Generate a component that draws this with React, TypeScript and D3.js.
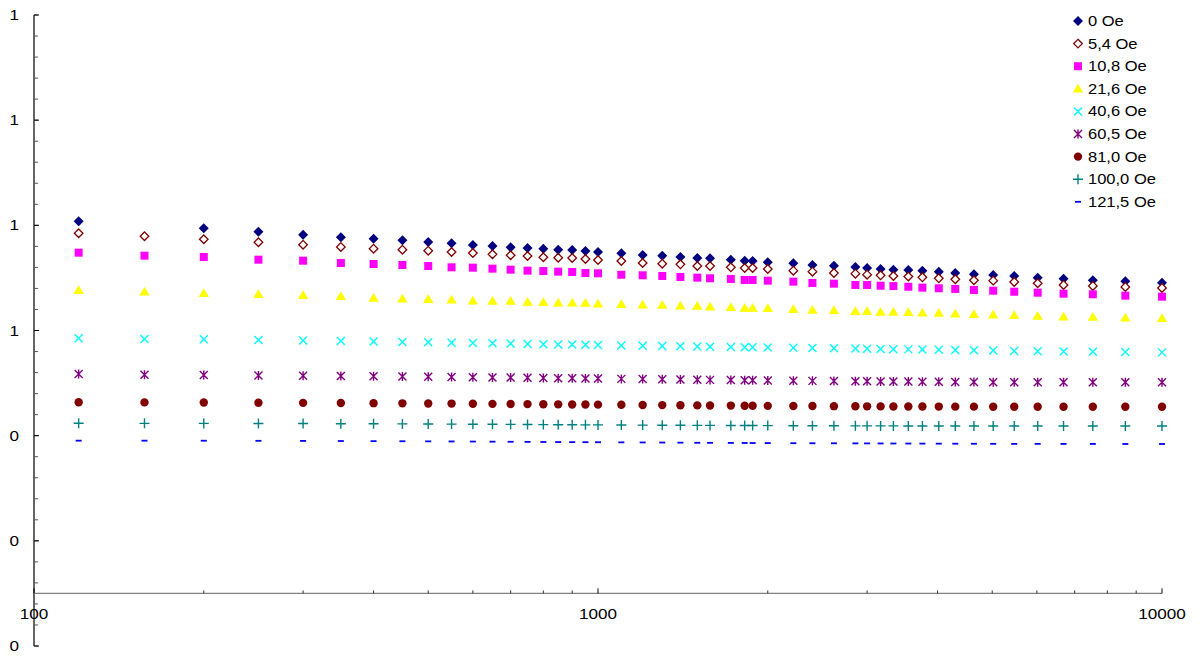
import React from "react";
import * as d3 from "d3";

const xValues = [120,157,200,250,300,350,400,450,500,550,600,650,700,750,800,850,900,950,1000,1100,1200,1300,1400,1500,1580,1720,1820,1880,2000,2220,2400,2620,2860,3000,3170,3340,3550,3760,4020,4300,4640,5020,5470,6020,6690,7540,8610,10000];

const s0: (number | null)[] = [0.808,null,0.7944,0.788,0.7822,0.7773,0.7746,0.7716,0.7684,0.7659,0.7627,0.7608,0.7583,0.757,0.7556,0.7537,0.7531,0.7513,0.7493,0.7469,0.7436,0.7423,0.7398,0.7379,0.7374,0.7347,0.7328,0.7322,0.7298,0.7278,0.7246,0.7233,0.7208,0.7189,0.717,0.7157,0.7151,0.7138,0.7119,0.7094,0.7069,0.7056,0.7037,0.7005,0.6986,0.6955,0.6936,0.691];
const s54 = [0.7849,0.7792,0.7735,0.7678,0.7632,0.7589,0.7556,0.7537,0.7518,0.7493,0.7474,0.745,0.7431,0.7417,0.7393,0.7385,0.7379,0.736,0.7341,0.7322,0.7284,0.7271,0.7259,0.7227,0.7227,0.7202,0.7189,0.7189,0.717,0.7138,0.7119,0.7094,0.7081,0.7062,0.705,0.7037,0.7027,0.7012,0.6993,0.6974,0.6955,0.6948,0.6923,0.6898,0.6866,0.6847,0.6828,0.6809];
const s108 = [0.748,0.7423,0.7398,0.7347,0.7328,0.7284,0.7265,0.7246,0.7227,0.7202,0.7195,0.7176,0.7157,0.7138,0.7132,0.7119,0.7113,0.7094,0.7088,0.706,0.705,0.7037,0.7018,0.7005,0.6993,0.698,0.6961,0.6961,0.6948,0.6929,0.6904,0.6891,0.6866,0.6866,0.6852,0.6845,0.6832,0.6815,0.6803,0.679,0.6771,0.6757,0.6738,0.6719,0.67,0.6689,0.6662,0.6643];
const s216 = [0.6765,0.6738,0.6708,0.6689,0.667,0.6651,0.6619,0.6605,0.6594,0.6586,0.6567,0.6563,0.6561,0.6543,0.6537,0.6529,0.6527,0.6523,0.651,0.6499,0.6491,0.6485,0.6472,0.6466,0.6453,0.6442,0.6428,0.6428,0.6423,0.6404,0.639,0.6385,0.6366,0.6366,0.6352,0.6352,0.6347,0.6339,0.6333,0.632,0.6309,0.6301,0.629,0.6276,0.6263,0.6257,0.6244,0.6232];
const s406 = [0.5852,0.5839,0.5833,0.582,0.581,0.5801,0.5791,0.5782,0.5776,0.5768,0.5763,0.5757,0.5751,0.5744,0.574,0.5736,0.5732,0.5728,0.5725,0.5717,0.5711,0.5706,0.57,0.5696,0.5692,0.5687,0.5683,0.5681,0.5677,0.5671,0.5668,0.5662,0.5656,0.5652,0.5649,0.5645,0.5641,0.5637,0.5633,0.563,0.5624,0.5618,0.5612,0.5607,0.5601,0.5595,0.559,0.5584];
const s605 = [0.5173,0.516,0.5152,0.5145,0.514,0.5135,0.513,0.5125,0.512,0.5116,0.5112,0.5108,0.5104,0.51,0.5097,0.5094,0.5091,0.5088,0.5085,0.508,0.5076,0.5072,0.5068,0.5064,0.5061,0.5057,0.5054,0.5052,0.5049,0.5045,0.5042,0.5039,0.5036,0.5034,0.5032,0.503,0.5028,0.5026,0.5024,0.5022,0.502,0.5018,0.5017,0.5016,0.5015,0.5015,0.5015,0.5015];
const s810 = [0.4635,0.4633,0.463,0.4627,0.4624,0.4621,0.4618,0.4615,0.4612,0.461,0.4607,0.4605,0.4603,0.46,0.4598,0.4596,0.4594,0.4592,0.459,0.4587,0.4584,0.4581,0.4578,0.4576,0.4574,0.4572,0.457,0.4569,0.4567,0.4565,0.4563,0.4561,0.4559,0.4558,0.4557,0.4556,0.4555,0.4554,0.4553,0.4552,0.4552,0.4551,0.4551,0.4551,0.4551,0.4551,0.4551,0.4551];
const s1000 = [0.4235,0.4234,0.4233,0.4231,0.423,0.4228,0.4226,0.4224,0.4222,0.422,0.4218,0.4216,0.4214,0.4212,0.421,0.4208,0.4207,0.4206,0.4205,0.4203,0.4201,0.4199,0.4197,0.4196,0.4195,0.4194,0.4193,0.4192,0.4191,0.419,0.4189,0.4188,0.4187,0.4187,0.4186,0.4186,0.4185,0.4185,0.4185,0.4184,0.4184,0.4184,0.4184,0.4184,0.4184,0.4184,0.4184,0.4184];
const s1215 = [0.3905,0.3905,0.3904,0.3902,0.39,0.3898,0.3896,0.3894,0.3892,0.389,0.3888,0.3886,0.3884,0.3882,0.388,0.3878,0.3877,0.3876,0.3875,0.3873,0.3871,0.3869,0.3867,0.3865,0.3864,0.3862,0.3861,0.386,0.3859,0.3857,0.3856,0.3855,0.3854,0.3853,0.3852,0.3851,0.385,0.3849,0.3848,0.3847,0.3846,0.3845,0.3844,0.3844,0.3843,0.3843,0.3842,0.3842];

const seriesNames = ["0 Oe","5,4 Oe","10,8 Oe","21,6 Oe","40,6 Oe","60,5 Oe","81,0 Oe","100,0 Oe","121,5 Oe"];
const seriesValues = [s0,s54,s108,s216,s406,s605,s810,s1000,s1215];
const xTickValues = [100, 1000, 10000];
const yTickValues = [0, 0.2, 0.4, 0.6, 0.8, 1.0, 1.2];

type Style = { fill: string; stroke: string; sw: number; path: string };
const styles: Style[] = [
  { fill: "#000080", stroke: "none", sw: 0, path: "M0,-5L5,0L0,5L-5,0Z" },
  { fill: "#ffffff", stroke: "#800000", sw: 1.3, path: "M0,-4.3L4.3,0L0,4.3L-4.3,0Z" },
  { fill: "#ff00ff", stroke: "none", sw: 0, path: "M-4,-4L4,-4L4,4L-4,4Z" },
  { fill: "#ffff00", stroke: "none", sw: 0, path: "M0,-5L5.2,3.8L-5.2,3.8Z" },
  { fill: "none", stroke: "#00ffff", sw: 1.4, path: "M-4,-4L4,4M-4,4L4,-4" },
  { fill: "none", stroke: "#800080", sw: 1.4, path: "M-4,-4L4,4M-4,4L4,-4M0,-4.5L0,4.5" },
  { fill: "#800000", stroke: "none", sw: 0, path: "M4.2,0A4.2,4.2 0 1,1 -4.2,0A4.2,4.2 0 1,1 4.2,0Z" },
  { fill: "none", stroke: "#008080", sw: 1.4, path: "M-5,0L5,0M0,-5L0,5" },
  { fill: "none", stroke: "#0000ff", sw: 1.8, path: "M-3,0L3,0" },
];

const SX = 1.18;

export default function App() {
  const W = 1202, H = 658;
  const x = d3.scaleLog().domain([100, 10000]).range([34, 1162]);
  const y = d3.scaleLinear().domain([0, 1.2]).range([646, 15]);
  const xAxisY = y(0.1);
  const fmt = (v: number) => v.toFixed(0);
  const yMinor = d3.range(0, 1.2001, 0.04);
  const xMinor: number[] = [];
  [100, 1000].forEach((d) => { for (let k = 2; k <= 9; k++) xMinor.push(d * k); });
  const font = "'Liberation Sans', Arial, sans-serif";

  return (
    <svg width={W} height={H} style={{ position: "absolute", left: 0, top: 0, background: "#fff" }} fontFamily={font}>
      {/* y axis */}
      <line x1={x(100)} x2={x(100)} y1={y(1.2)} y2={y(0)} stroke="#000" strokeWidth={1.2} />
      {yMinor.map((v, i) => (
        <line key={"ym" + i} x1={x(100)} x2={x(100) + 4} y1={y(v)} y2={y(v)} stroke="#555" strokeWidth={1} />
      ))}
      {yTickValues.map((v, i) => (
        <g key={"yt" + i}>
          <line x1={x(100)} x2={x(100) + 5} y1={y(v)} y2={y(v)} stroke="#000" strokeWidth={1} />
          <text transform={`translate(19,${y(v)}) scale(${SX},1)`} dy="0.35em" textAnchor="end" fontSize={14.5} fill="#000">{fmt(v)}</text>
        </g>
      ))}
      {/* x axis */}
      <line x1={x(100)} x2={x(10000)} y1={xAxisY} y2={xAxisY} stroke="#808080" strokeWidth={1.3} />
      {xMinor.map((v, i) => (
        <line key={"xm" + i} x1={x(v)} x2={x(v)} y1={xAxisY} y2={xAxisY - 3} stroke="#333" strokeWidth={1} />
      ))}
      {xTickValues.map((v, i) => (
        <g key={"xt" + i}>
          <line x1={x(v)} x2={x(v)} y1={xAxisY} y2={xAxisY - 5} stroke="#000" strokeWidth={1} />
          <text transform={`translate(${x(v)},${xAxisY + 20}) scale(${SX},1)`} dy="0.35em" textAnchor="middle" fontSize={14.5} fill="#000">{String(v)}</text>
        </g>
      ))}
      {/* series */}
      {seriesValues.map((vals, si) => (
        <g key={"s" + si}>
          {vals.map((v, i) =>
            v == null ? null : (
              <path key={i} d={styles[si].path} transform={`translate(${x(xValues[i])},${y(v)})`}
                fill={styles[si].fill} stroke={styles[si].stroke} strokeWidth={styles[si].sw} />
            )
          )}
        </g>
      ))}
      {/* legend */}
      {seriesNames.map((name, si) => {
        const ly = 21 + si * 22.6;
        return (
          <g key={"l" + si}>
            <path d={styles[si].path} transform={`translate(1078,${ly})`} fill={styles[si].fill}
              stroke={styles[si].stroke} strokeWidth={styles[si].sw} />
            <text transform={`translate(1088,${ly}) scale(${SX},1)`} dy="0.35em" fontSize={14} fill="#000">{name}</text>
          </g>
        );
      })}
    </svg>
  );
}
